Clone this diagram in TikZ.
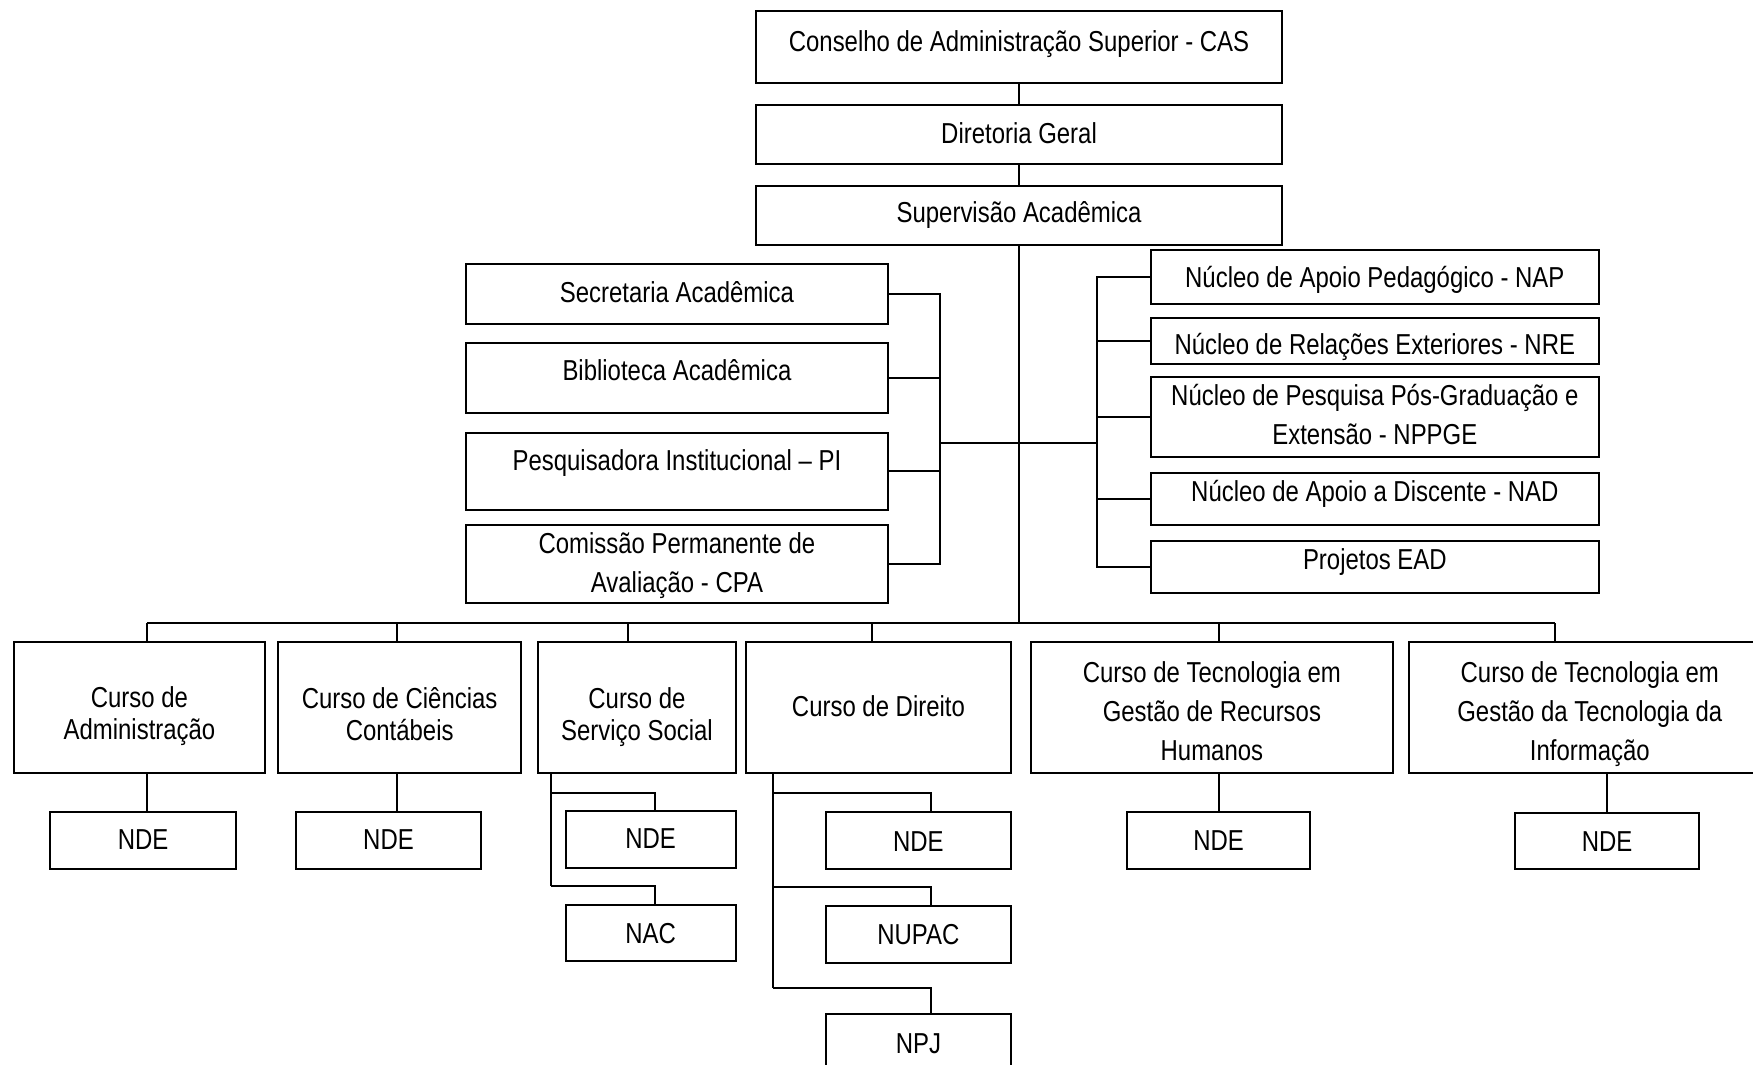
\documentclass[tikz,border=0pt]{standalone}
\usepackage{fontspec}
\setmainfont{Liberation Sans}[FakeStretch=0.83]

\begin{document}
\begin{tikzpicture}
  [x=1pt,y=-1pt,line width=1.8pt,
   box/.style={draw,rectangle,inner sep=0pt,outer sep=0pt},
   txt/.style={anchor=base,align=center,inner sep=0pt,font=\fontsize{25.8}{34.8}\selectfont},
   tighttxt/.style={txt,font=\fontsize{25.8}{28.7}\selectfont}]
  \useasboundingbox (0,0) rectangle (1568,952.6);

  % direction
  \node[box,minimum width=471,minimum height=64] (cas) at (911.5,42) {};
  \node[box,minimum width=471,minimum height=53.5] (dir) at (911.5,120.25) {};
  \node[box,minimum width=471,minimum height=53] (sup) at (911.5,192.5) {};
  \node[txt] (cas-t) at (911.5,46.2) {Conselho de Administração Superior - CAS};
  \node[txt] (dir-t) at (911.5,128.7) {Diretoria Geral};
  \node[txt] (sup-t) at (911.5,199) {Supervisão Acadêmica};

  % left group
  \node[box,minimum width=377,minimum height=53.5] (sec) at (605.5,263.25) {};
  \node[box,minimum width=377,minimum height=62] (bib) at (605.5,338) {};
  \node[box,minimum width=377,minimum height=69] (pi) at (605.5,421.5) {};
  \node[box,minimum width=377,minimum height=70] (cpa) at (605.5,504.5) {};
  \node[txt] (sec-t) at (605.5,270.6) {Secretaria Acadêmica};
  \node[txt] (bib-t) at (605.5,340.6) {Biblioteca Acadêmica};
  \node[txt] (pi-t) at (605.5,420.8) {Pesquisadora Institucional – PI};
  \node[txt] (cpa-t) at (605.5,529.8) {Comissão Permanente de\\Avaliação - CPA};

  % right group
  \node[box,minimum width=400.5,minimum height=48.5] (nap) at (1229.75,247.75) {};
  \node[box,minimum width=400.5,minimum height=42] (nre) at (1229.75,305) {};
  \node[box,minimum width=400.5,minimum height=71.5] (nppge) at (1229.75,372.75) {};
  \node[box,minimum width=400.5,minimum height=46] (nad) at (1229.75,446.5) {};
  \node[box,minimum width=400.5,minimum height=46] (ead) at (1229.75,507) {};
  \node[txt] (nap-t) at (1229.75,257.2) {Núcleo de Apoio Pedagógico - NAP};
  \node[txt] (nre-t) at (1229.75,316.8) {Núcleo de Relações Exteriores - NRE};
  \node[txt] (nppge-t) at (1229.75,397.2) {Núcleo de Pesquisa Pós-Graduação e\\Extensão - NPPGE};
  \node[txt] (nad-t) at (1229.75,448.5) {Núcleo de Apoio a Discente - NAD};
  \node[txt] (ead-t) at (1229.75,509) {Projetos EAD};

  % cursos
  \node[box,minimum width=224.5,minimum height=117.5] (adm) at (124.75,632.75) {};
  \node[box,minimum width=217,minimum height=117.5] (cont) at (357.5,632.75) {};
  \node[box,minimum width=176.5,minimum height=117.5] (ss) at (569.75,632.75) {};
  \node[box,minimum width=236.5,minimum height=117.5] (dirc) at (785.75,632.75) {};
  \node[box,minimum width=324,minimum height=117.5] (rh) at (1084,632.75) {};
  \node[box,minimum width=324,minimum height=117.5] (ti) at (1422,632.75) {};
  \node[tighttxt] (adm-t) at (124.75,661.3) {Curso de\\Administração};
  \node[tighttxt] (cont-t) at (357.5,662) {Curso de Ciências\\Contábeis};
  \node[tighttxt] (ss-t) at (569.75,662) {Curso de\\Serviço Social};
  \node[txt] (dirc-t) at (785.75,640.5) {Curso de Direito};
  \node[txt] (rh-t) at (1084,680.4) {Curso de Tecnologia em\\Gestão de Recursos\\Humanos};
  \node[txt] (ti-t) at (1422,680.4) {Curso de Tecnologia em\\Gestão da Tecnologia da\\Informação};

  % nucleos dos cursos
  \node[box,minimum width=166,minimum height=51] (adm-nde) at (128,751.5) {};
  \node[box,minimum width=165,minimum height=51] (cont-nde) at (347.5,751.5) {};
  \node[box,minimum width=152,minimum height=51] (ss-nde) at (582,750.5) {};
  \node[box,minimum width=152,minimum height=50.5] (ss-nac) at (582,834.75) {};
  \node[box,minimum width=165,minimum height=51] (dir-nde) at (821.5,751.5) {};
  \node[box,minimum width=165,minimum height=51] (dir-nupac) at (821.5,835.5) {};
  \node[box,minimum width=165,minimum height=51] (dir-npj) at (821.5,932.5) {};
  \node[box,minimum width=164,minimum height=51] (rh-nde) at (1090,751.5) {};
  \node[box,minimum width=165,minimum height=50] (ti-nde) at (1437.5,752) {};
  \node[txt] (adm-nde-t) at (128,759.5) {NDE};
  \node[txt] (cont-nde-t) at (347.5,759.5) {NDE};
  \node[txt] (ss-nde-t) at (582,759) {NDE};
  \node[txt] (ss-nac-t) at (582,843.5) {NAC};
  \node[txt] (dir-nde-t) at (821.5,761.5) {NDE};
  \node[txt] (dir-nupac-t) at (821.5,844.5) {NUPAC};
  \node[txt] (dir-npj-t) at (821.5,942.5) {NPJ};
  \node[txt] (rh-nde-t) at (1090,760.5) {NDE};
  \node[txt] (ti-nde-t) at (1437.5,761.5) {NDE};

  \coordinate (lj) at (840.5,396);
  \coordinate (rj) at (981,396);
  \coordinate (bus) at (911.5,557.3);
  \coordinate (b1) at (131.4,557.3);
  \coordinate (b2) at (355.2,557.3);
  \coordinate (b3) at (561.9,557.3);
  \coordinate (b4) at (780,557.3);
  \coordinate (b5) at (1090.3,557.3);
  \coordinate (b6) at (1390.7,557.3);
  \coordinate (ss1) at (492.6,709.3);
  \coordinate (ss2) at (492.6,792.7);
  \coordinate (dv1) at (691.4,709.3);
  \coordinate (dv2) at (691.4,793);
  \coordinate (dv3) at (691.4,884);

  \draw (cas) -- (dir);
  \draw (dir) -- (sup);
  \draw (sup) -- (bus);
  \draw (lj) -- (rj);
  \draw (b1) -- (b6);

  \foreach \c in {sec,bib,pi,cpa}
    \draw (\c.east) -| (lj);
  \foreach \c in {nap,nre,nppge,nad,ead}
    \draw (rj) |- (\c.west);
  \foreach \b/\c in {b1/adm,b2/cont,b3/ss,b4/dirc,b5/rh,b6/ti}
    \draw (\b) -- (\b |- \c.north);
  \foreach \b/\c in {b1/adm,b2/cont,b5/rh}
    \draw (\b |- \c.south) -- (\b |- \c-nde.north);
  \draw (ti.south -| ti-nde.north) -- (ti-nde.north);

  \draw (ss.south -| ss2) -- (ss2);
  \foreach \s/\c in {ss1/ss-nde,ss2/ss-nac}
    \draw (\s) -| ([xshift=3.6pt]\c.north);
  \draw (dirc.south -| dv3) -- (dv3);
  \foreach \d/\c in {dv1/dir-nde,dv2/dir-nupac,dv3/dir-npj}
    \draw (\d) -| ([xshift=11.5pt]\c.north);
\end{tikzpicture}
\end{document}
